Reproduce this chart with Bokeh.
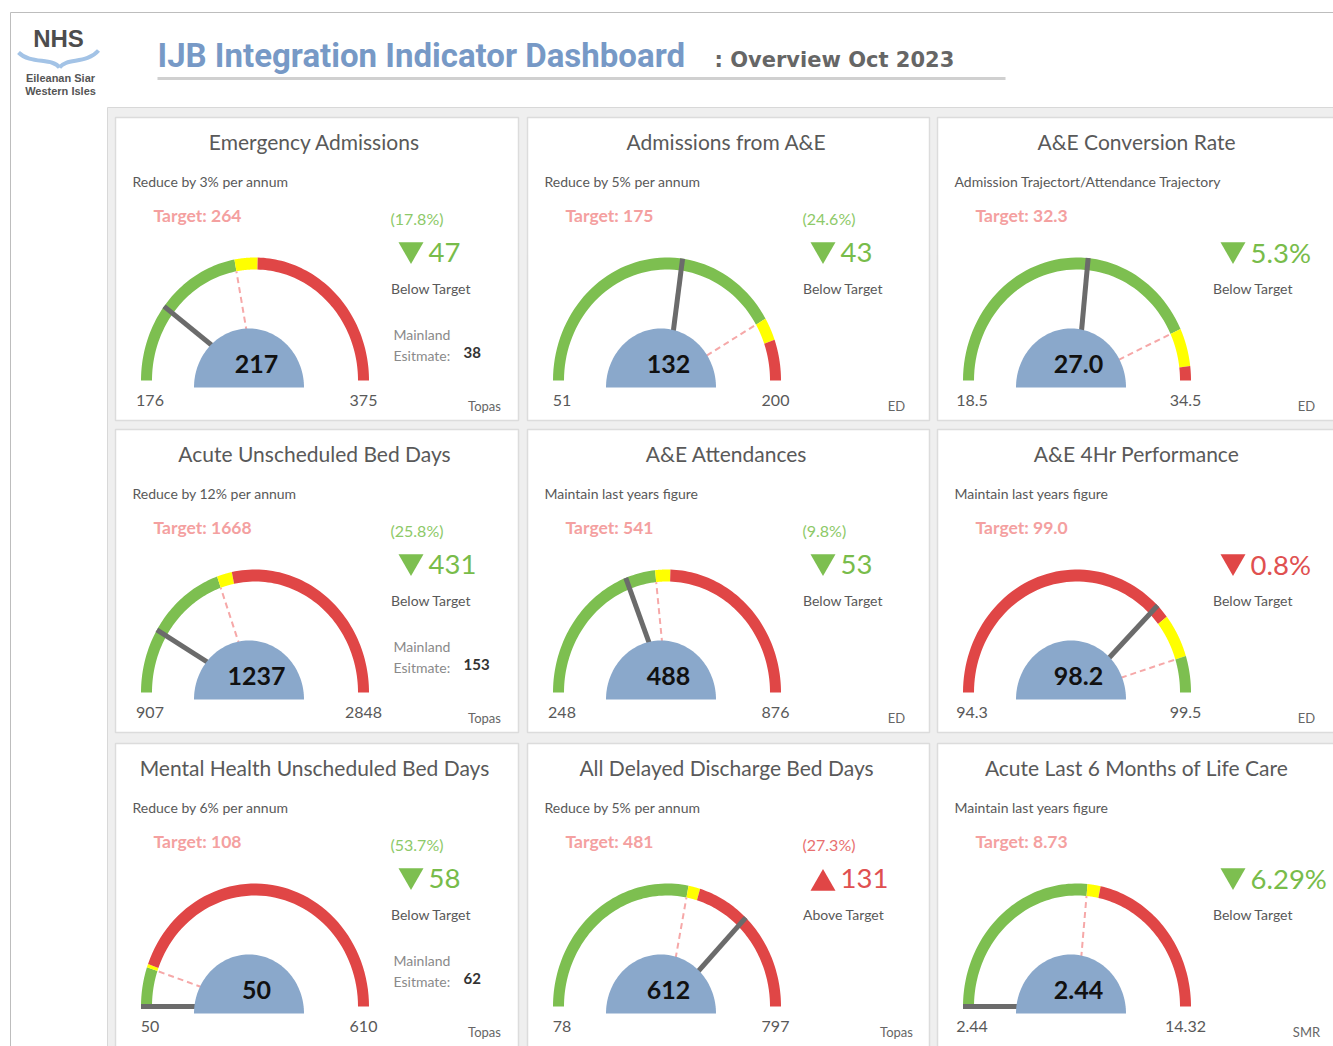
import numpy as np
from bokeh.plotting import figure
from bokeh.models import Range1d
from bokeh.core.properties import value
from bokeh.embed import file_html
from bokeh.resources import INLINE

# ---------------- data ----------------
titles = ["Emergency Admissions", "Admissions from A&E", "A&E Conversion Rate",
          "Acute Unscheduled Bed Days", "A&E Attendances", "A&E 4Hr Performance",
          "Mental Health Unscheduled Bed Days", "All Delayed Discharge Bed Days",
          "Acute Last 6 Months of Life Care"]
subtitles = ["Reduce by 3% per annum", "Reduce by 5% per annum",
             "Admission Trajectort/Attendance Trajectory",
             "Reduce by 12% per annum", "Maintain last years figure", "Maintain last years figure",
             "Reduce by 6% per annum", "Reduce by 5% per annum", "Maintain last years figure"]
gauge_min = [176, 51, 18.5, 907, 248, 94.3, 50, 78, 2.44]
gauge_max = [375, 200, 34.5, 2848, 876, 99.5, 610, 797, 14.32]
targets = [264, 175, 32.3, 1668, 541, 99.0, 108, 481, 8.73]
actuals = [217, 132, 27.0, 1237, 488, 98.2, 50, 612, 2.44]
amber_lo = [264, 175, 32.3, 1668, 541, 98.4, 108, 481, 8.73]
amber_hi = [277, 184, 33.9, 1751, 568, 99.0, 113, 505, 9.17]
low_is_good = [True, True, True, True, True, False, True, True, True]
min_labels = ["176", "51", "18.5", "907", "248", "94.3", "50", "78", "2.44"]
max_labels = ["375", "200", "34.5", "2848", "876", "99.5", "610", "797", "14.32"]
value_labels = ["217", "132", "27.0", "1237", "488", "98.2", "50", "612", "2.44"]
target_labels = ["Target: 264", "Target: 175", "Target: 32.3", "Target: 1668", "Target: 541",
                 "Target: 99.0", "Target: 108", "Target: 481", "Target: 8.73"]
variance_pct = ["(17.8%)", "(24.6%)", "", "(25.8%)", "(9.8%)", "", "(53.7%)", "(27.3%)", ""]
variance = ["47", "43", "5.3%", "431", "53", "0.8%", "58", "131", "6.29%"]
variance_up = [False, False, False, False, False, False, False, True, False]
variance_good = [True, True, True, True, True, False, True, False, True]
status = ["Below Target", "Below Target", "Below Target", "Below Target", "Below Target",
          "Below Target", "Below Target", "Above Target", "Below Target"]
mainland = ["38", "", "", "153", "", "", "62", "", ""]
sources = ["Topas", "ED", "ED", "Topas", "ED", "ED", "Topas", "Topas", "SMR"]

# ---------------- style ----------------
BODY = "Lato"
GREEN = "#7dbf50"
RED = "#e04646"
AMBER = "#ffff00"
HUB = "#8aa8cb"
NEEDLE = "#6b6b6b"
TARGET_C = "#f4a0a0"
TXT = "#595959"
GOOD_TXT = "#78bc4a"
BAD_TXT = "#e05050"
GOOD_PCT = "#8dc968"
BAD_PCT = "#e87070"

PANEL_X = [115, 527, 937]
PANEL_Y = [117, 429, 743]
PANEL_W = [403, 402, 410]
PANEL_H = [303, 303, 320]
RX_OUT, RX_IN, RY_OUT, RY_IN = 114, 103, 123, 111
HUB_RX, HUB_RY = 55, 59

W, H = 1333, 1046
p = figure(width=W, height=H, x_range=Range1d(0, W), y_range=Range1d(0, H),
           output_backend="svg", toolbar_location=None, min_border=0,
           x_axis_type=None, y_axis_type=None)
p.outline_line_color = None
p.background_fill_color = "white"
p.border_fill_color = "white"


def Y(s):
    return H - s


def put(x, y, s, size, color, align="left", bold=False, font=BODY, baseline="middle"):
    p.text(x=[x], y=[Y(y)], text=[s], text_font=value(font), text_font_size=f"{size}px",
           text_color=color, text_align=align, text_baseline=baseline,
           text_font_style="bold" if bold else "normal")


# ---------------- page frame / header ----------------
p.segment(x0=[10, 10], y0=[Y(12), Y(12)], x1=[1340, 10], y1=[Y(12), Y(1050)],
          line_color="#bdbdbd", line_width=1)
p.quad(left=[107], right=[1345], top=[Y(107)], bottom=[Y(1060)],
       fill_color="#efefef", line_color="#d8d8d8", line_width=1)

# NHS logo
put(58, 38, "NHS", 24, "#4d4d4d", align="center", bold=True, font="Liberation Sans")
p.bezier(x0=[18, 59], y0=[Y(52), Y(67)], x1=[59, 98], y1=[Y(67), Y(50)],
         cx0=[30, 66], cy0=[Y(64), Y(57)], cx1=[52, 86], cy1=[Y(57), Y(64)],
         line_color="#a3c3e6", line_width=4)
put(60, 77, "Eileanan Siar", 11, "#555555", align="center", bold=True, font="Liberation Sans")
put(60, 90, "Western Isles", 11, "#555555", align="center", bold=True, font="Liberation Sans")

# title
put(157, 55, "IJB Integration Indicator Dashboard", 33, "#7799c6", bold=True, font="Roboto")
put(714, 59, ": Overview  Oct 2023", 21, "#666666", bold=True, font="DejaVu Sans")
p.segment(x0=[157], y0=[Y(78)], x1=[1005], y1=[Y(78)], line_color="#d0d0d0", line_width=3)

# ---------------- panels ----------------
pl, pr, pt, pb = [], [], [], []
for i in range(9):
    c, r = i % 3, i // 3
    pl.append(PANEL_X[c]); pr.append(PANEL_X[c] + PANEL_W[c])
    pt.append(Y(PANEL_Y[r])); pb.append(Y(PANEL_Y[r] + PANEL_H[r]))
p.quad(left=pl, right=pr, top=pt, bottom=pb, fill_color="white",
       line_color="#dcdcdc", line_width=1.5)

band_xs, band_ys, band_cols = [], [], []
hub_xs, hub_ys = [], []
nx0, ny0, nx1, ny1 = [], [], [], []
tx0, ty0, tx1, ty1 = [], [], [], []
tri_x, tri_y, tri_m, tri_c = [], [], [], []

for i in range(9):
    c, r = i % 3, i // 3
    ox, oy = PANEL_X[c], PANEL_Y[r]
    cx, cy = ox + 139.5, Y(oy + 263)
    lo, hi = gauge_min[i], gauge_max[i]

    def ang(v):
        return np.pi * (1 - (v - lo) / (hi - lo))

    c_low = GREEN if low_is_good[i] else RED
    c_high = RED if low_is_good[i] else GREEN
    for a, b, col in [(lo, amber_lo[i], c_low), (amber_lo[i], amber_hi[i], AMBER),
                      (amber_hi[i], hi, c_high)]:
        ts = np.linspace(ang(a), ang(b), 60)
        xo = cx + RX_OUT * np.cos(ts)
        yo = cy + RY_OUT * np.sin(ts)
        xi = cx + RX_IN * np.cos(ts[::-1])
        yi = cy + RY_IN * np.sin(ts[::-1])
        band_xs.append(list(np.r_[xo, xi]))
        band_ys.append(list(np.r_[yo, yi]))
        band_cols.append(col)

    t = ang(actuals[i])
    nx0.append(cx); ny0.append(cy)
    nx1.append(cx + RX_OUT * np.cos(t)); ny1.append(cy + RY_OUT * np.sin(t))

    t = ang(targets[i])
    tx0.append(cx + 0.35 * RX_IN * np.cos(t)); ty0.append(cy + 0.35 * RY_IN * np.sin(t))
    tx1.append(cx + RX_IN * np.cos(t)); ty1.append(cy + RY_IN * np.sin(t))

    ts = np.linspace(0, np.pi, 80)
    hub_xs.append(list(cx - 6 + HUB_RX * np.cos(ts)))
    hub_ys.append(list(cy - 7 + HUB_RY * np.sin(ts)))

    tri_x.append(ox + 295.5)
    tri_y.append(Y(oy + (140 if variance_up[i] else 132)))
    tri_m.append("triangle" if variance_up[i] else "inverted_triangle")
    tri_c.append(GREEN if variance_good[i] else RED)

p.patches(xs=band_xs, ys=band_ys, fill_color=band_cols, line_color=None)
p.segment(x0=nx0, y0=ny0, x1=nx1, y1=ny1, line_color=NEEDLE, line_width=5)
p.segment(x0=tx0, y0=ty0, x1=tx1, y1=ty1, line_color="#f6a8a8", line_width=2,
          line_dash="6 4")
p.patches(xs=hub_xs, ys=hub_ys, fill_color=HUB, line_color=None)
p.scatter(x=tri_x, y=tri_y, marker=tri_m, size=25, fill_color=tri_c, line_color=None)

for i in range(9):
    c, r = i % 3, i // 3
    ox, oy = PANEL_X[c], PANEL_Y[r]
    cx = ox + 139.5
    cy = oy + 263
    put(ox + 199, oy + 23.5, titles[i], 21, TXT, align="center")
    put(ox + 17, oy + 64, subtitles[i], 14, TXT)
    put(ox + 38, oy + 98, target_labels[i], 17.5, TARGET_C, bold=True)
    if variance_pct[i]:
        put(ox + 275, oy + 101, variance_pct[i], 16,
            GOOD_PCT if variance_good[i] else BAD_PCT)
    put(ox + 313, oy + 135, variance[i], 27.5, GOOD_TXT if variance_good[i] else BAD_TXT)
    put(ox + 275.5, oy + 171, status[i], 14, TXT)
    if mainland[i]:
        put(ox + 278, oy + 217, "Mainland", 14, "#8a8a8a")
        put(ox + 278, oy + 238, "Esitmate:", 14, "#8a8a8a")
        put(ox + 348, oy + 235, mainland[i], 15, "#333333", bold=True)
    put(ox + 369, oy + 288, sources[i], 13, "#666666", align="center")
    put(cx - 105, cy + 20, min_labels[i], 16, TXT, align="center")
    put(cx + 108.5, cy + 20, max_labels[i], 16, TXT, align="center")
    put(cx + 1.5, cy - 16.5, value_labels[i], 25, "#111111", align="center", bold=True)

open("out.html", "w").write(file_html(p, INLINE, "IJB Integration Indicator Dashboard"))
